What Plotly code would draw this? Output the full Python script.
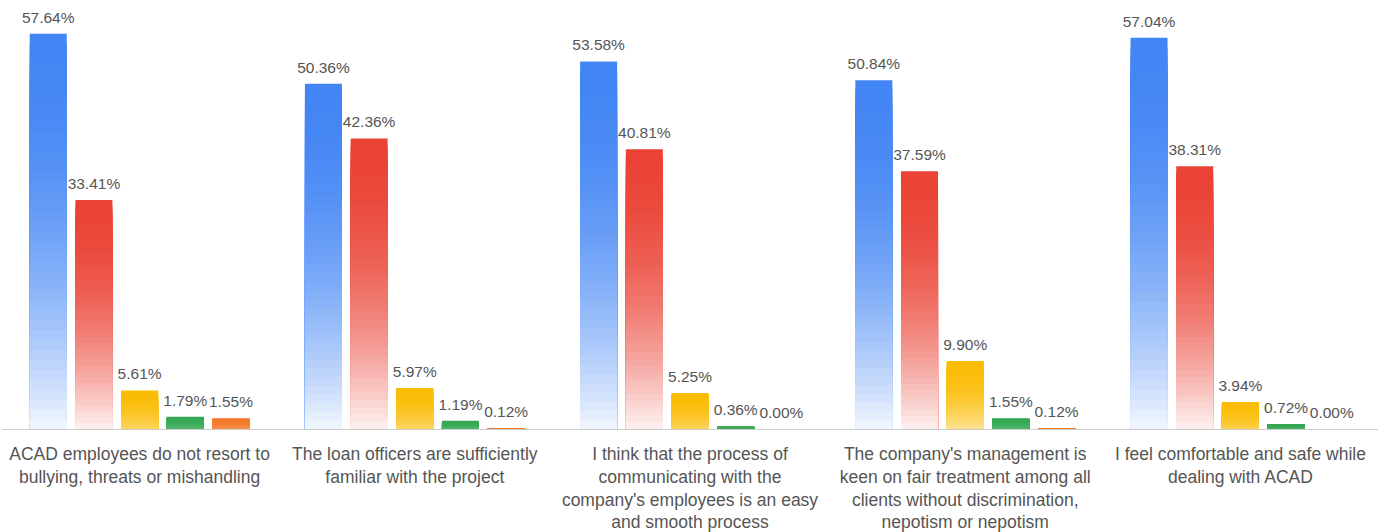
import plotly.graph_objects as go

categories = [
    "ACAD employees do not resort to<br>bullying, threats or mishandling",
    "The loan officers are sufficiently<br>familiar with the project",
    "I think that the process of<br>communicating with the<br>company's employees is an easy<br>and smooth process",
    "The company's management is<br>keen on fair treatment among all<br>clients without discrimination,<br>nepotism or nepotism",
    "I feel comfortable and safe while<br>dealing with ACAD",
]
series_names = ["Strongly agree", "Agree", "Neutral", "Disagree", "Strongly disagree"]
strongly_agree = [57.64, 50.36, 53.58, 50.84, 57.04]
agree = [33.41, 42.36, 40.81, 37.59, 38.31]
neutral = [5.61, 5.97, 5.25, 9.90, 3.94]
disagree = [1.79, 1.19, 0.36, 1.55, 0.72]
strongly_disagree = [1.55, 0.12, 0.00, 0.12, 0.00]
series_values = [strongly_agree, agree, neutral, disagree, strongly_disagree]
colors = ["#4285F4", "#EA4335", "#FBBC04", "#34A853", "#F4792A"]

FONT = "Liberation Sans, Arial, sans-serif"
K = 40  # gradient steps per bar
GAP = 0.17


def hex_to_rgb(h):
    h = h.lstrip("#")
    return tuple(int(h[i:i + 2], 16) for i in (0, 2, 4))


def mix(col, w):
    r, g, b = hex_to_rgb(col)
    return "rgb(%d,%d,%d)" % (round(r + (255 - r) * w), round(g + (255 - g) * w), round(b + (255 - b) * w))


def fade_max(v):
    return 0.93 * min(1.0, (v / 20.0) ** 0.7) if v > 0 else 0.0


fig = go.Figure()
for s, (name, vals, col) in enumerate(zip(series_names, series_values, colors)):
    # nested bars: tallest (top colour) first, shorter & lighter ones drawn over it
    for k in range(K, 0, -1):
        frac = k / K
        t_top = 1.0 - (k - 0.5) / K
        seg_colors = [mix(col, fade_max(v) * t_top ** 2) for v in vals]
        fig.add_trace(go.Bar(
            x=categories,
            y=[v * frac for v in vals],
            offsetgroup=str(s),
            name=name,
            marker=dict(color=seg_colors, line=dict(width=0)),
            hoverinfo="skip",
            showlegend=False,
        ))

for s, (name, vals) in enumerate(zip(series_names, series_values)):
    fig.add_trace(go.Scatter(
        x=categories,
        y=vals,
        offsetgroup=str(s),
        name=name,
        mode="markers+text",
        marker=dict(size=10, color="rgba(0,0,0,0)"),
        text=["%.2f%%" % v for v in vals],
        textposition="top center",
        cliponaxis=False,
        textfont=dict(family=FONT, size=15.5, color="#555555"),
        hoverinfo="skip",
        showlegend=False,
    ))

fig.update_layout(
    width=1378,
    height=532,
    barmode="group",
    bargap=GAP,
    bargroupgap=0.19,
    scattermode="group",
    scattergap=GAP,
    margin=dict(l=2, r=0, t=10, b=100),
    plot_bgcolor="white",
    paper_bgcolor="white",
    showlegend=False,
    font=dict(family=FONT, color="#555555"),
)
fig.update_yaxes(range=[0, 61.1], visible=False, showgrid=False)
fig.update_xaxes(
    showline=True, linecolor="#cccccc", linewidth=1,
    showgrid=False, ticks="", ticklabelstandoff=9,
    tickfont=dict(family=FONT, size=17.5, color="#555555"),
)

fig.write_html("out.html", config={"displayModeBar": False},
               post_script="document.body.style.margin='0';")
